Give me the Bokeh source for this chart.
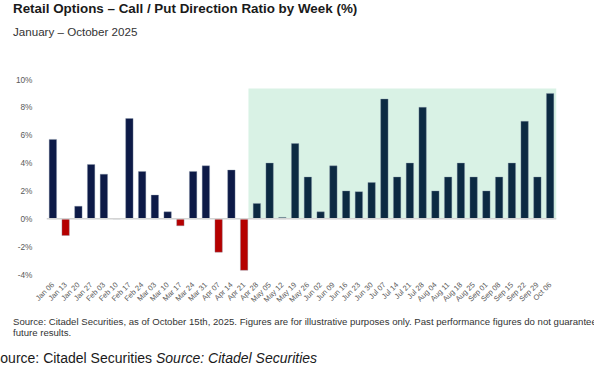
from math import pi
from bokeh.plotting import figure
from bokeh.layouts import column
from bokeh.models import Span, FactorRange, ColumnDataSource, FixedTicker, Div
from bokeh.embed import file_html
from bokeh.resources import INLINE

# ---- data ----
weeks = ["Jan 06", "Jan 13", "Jan 20", "Jan 27", "Feb 03", "Feb 10", "Feb 17", "Feb 24",
         "Mar 03", "Mar 10", "Mar 17", "Mar 24", "Mar 31", "Apr 07", "Apr 14", "Apr 21",
         "Apr 28", "May 05", "May 12", "May 19", "May 26", "Jun 02", "Jun 09", "Jun 16",
         "Jun 23", "Jun 30", "Jul 07", "Jul 14", "Jul 21", "Jul 28", "Aug 04", "Aug 11",
         "Aug 18", "Aug 25", "Sep 01", "Sep 08", "Sep 15", "Sep 22", "Sep 29", "Oct 06"]
ratio_pct = [5.7, -1.2, 0.9, 3.9, 3.2, 0.0, 7.2, 3.4,
             1.7, 0.5, -0.5, 3.4, 3.8, -2.4, 3.5, -3.7,
             1.1, 4.0, 0.1, 5.4, 3.0, 0.5, 3.8, 2.0,
             1.95, 2.6, 8.6, 3.0, 4.0, 8.0, 2.0, 3.0,
             4.0, 3.0, 2.0, 3.0, 4.0, 7.0, 3.0, 9.0]
y_ticks = [-4, -2, 0, 2, 4, 6, 8, 10]
y_tick_labels = ["-4%", "-2%", "0%", "2%", "4%", "6%", "8%", "10%"]
highlight_from = "Apr 28"
highlight_top = 9.35

title_text = "Retail Options \u2013 Call / Put Direction Ratio by Week (%)"
subtitle_text = "January \u2013 October 2025"
note_line1 = ("Source: Citadel Securities, as of October 15th, 2025. Figures are for illustrative "
              "purposes only. Past performance figures do not guarantee")
note_line2 = "future results."
source_regular = "Source: Citadel Securities"
source_italic = "Source: Citadel Securities"

# ---- styles ----
NAVY = "#0d1a47"
TEAL_NAVY = "#0c2a42"
RED = "#b50000"
SHADE = "#d9f2e5"
FONT = "Liberation Sans"

hl_index = weeks.index(highlight_from)
colors = [RED if v < 0 else (TEAL_NAVY if i >= hl_index else NAVY) for i, v in enumerate(ratio_pct)]
src = ColumnDataSource(dict(week=weeks, value=ratio_pct, color=colors))

p = figure(x_range=FactorRange(factors=weeks, range_padding=0), y_range=(-4, 10),
           width=594, height=250, output_backend="svg", toolbar_location=None,
           min_border_left=46, min_border_right=38, min_border_top=19, min_border_bottom=35)

p.quad(left=[hl_index + 0.5 - 0.66], right=[len(weeks)], bottom=[0], top=[highlight_top],
       fill_color=SHADE, line_color=None)
p.add_layout(Span(location=0, dimension="width", line_color="#d4d4d4", line_width=1.5))
p.vbar(x="week", top="value", width=0.58, source=src, fill_color="color",
       line_color="#8896aa", line_width=0.6, line_alpha=0.6)

p.xgrid.grid_line_color = None
p.ygrid.grid_line_color = None
p.outline_line_color = None

p.yaxis.ticker = FixedTicker(ticks=y_ticks)
p.yaxis.major_label_overrides = {t: l for t, l in zip(y_ticks, y_tick_labels)}
for ax in (p.xaxis, p.yaxis):
    ax.axis_line_color = None
    ax.major_tick_line_color = None
    ax.minor_tick_line_color = None
    ax.major_label_text_color = "#595959"
    ax.major_label_text_font = FONT
p.yaxis.major_label_text_font_size = "8.3px"
p.yaxis.major_label_standoff = 8
p.xaxis.major_label_text_font_size = "7.5px"
p.xaxis.major_label_orientation = pi / 4
p.xaxis.major_label_standoff = 3

ff = "font-family:'Liberation Sans',Arial,sans-serif;white-space:nowrap;"
top_html = (
    f'<div style="{ff}width:594px;height:60px;overflow:hidden;padding-left:13px;box-sizing:border-box">'
    f'<div style="font-size:13.4px;font-weight:bold;line-height:16px;padding-top:1px;color:#1a1a1a">{title_text}</div>'
    f'<div style="font-size:11.6px;line-height:14px;margin-top:7.5px;color:#333333">{subtitle_text}</div>'
    '</div>'
)
bottom_html = (
    f'<div style="{ff}width:594px;height:64px;overflow:hidden;box-sizing:border-box">'
    f'<div style="padding-left:13px;font-size:9.6px;line-height:11px;padding-top:5.7px;color:#333333">{note_line1}<br>{note_line2}</div>'
    f'<div style="font-size:14px;line-height:16px;margin-top:12.4px;margin-left:-9px;color:#1a1a1a">'
    f'{source_regular} <i>{source_italic}</i></div>'
    '</div>'
)
top_div = Div(text=top_html, width=594, height=60, margin=0)
bottom_div = Div(text=bottom_html, width=594, height=64, margin=0)

layout = column(top_div, p, bottom_div, spacing=0)
open("out.html", "w").write(file_html(layout, INLINE))
